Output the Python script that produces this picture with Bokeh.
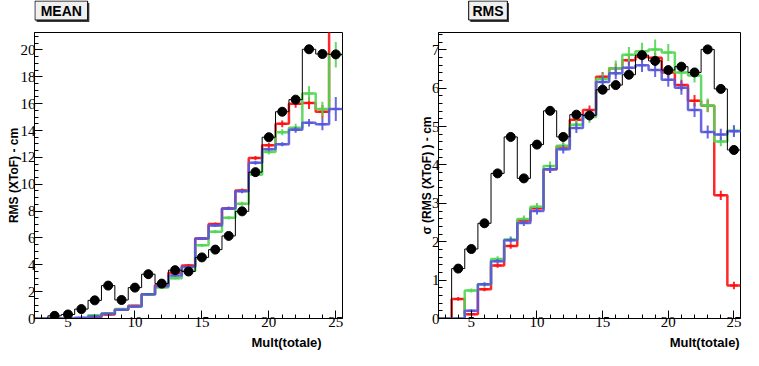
import numpy as np
from bokeh.plotting import figure
from bokeh.layouts import row, column
from bokeh.models import FixedTicker, Range1d
from bokeh.core.properties import value
from bokeh.embed import file_html
from bokeh.resources import INLINE

# ---------------- data ----------------
bins = list(range(3, 26))

# MEAN panel
black_mean = [0, 0.2, 0.3, 0.7, 1.35, 2.45, 1.38, 2.3, 3.3, 2.6, 3.6, 3.5, 4.55, 5.13, 6.15, 7.98,
              10.9, 13.5, 15.4, 16.3, 20.05, 19.7, 19.67]
red_mean = [0, 0, 0, 0.02, 0.1, 0.3, 0.65, 0.95, 1.8, 2.5, 3.4, 3.95, 5.96, 7.03, 8.2, 9.53,
            11.95, 12.9, 14.5, 16.0, 16.05, 15.4, 24.0]
green_mean = [0, 0, 0, 0.02, 0.25, 0.4, 0.7, 0.9, 1.77, 2.3, 3.0, 3.55, 5.45, 6.47, 7.5, 8.55,
              10.7, 12.4, 13.87, 14.2, 16.75, 15.6, 19.65]
blue_mean = [0, 0, 0, 0.05, 0.15, 0.35, 0.65, 0.9, 1.8, 2.4, 3.2, 3.83, 5.96, 6.93, 8.2, 9.48,
             11.6, 12.6, 12.97, 14.06, 14.57, 14.47, 15.6]
red_mean_err = [0, 0, 0, 0.02, 0.03, 0.04, 0.05, 0.05, 0.06, 0.07, 0.08, 0.1, 0.1, 0.12, 0.12,
                0.15, 0.15, 0.18, 0.25, 0.3, 0.45, 0.5, 1.2]
green_mean_err = [0, 0, 0, 0.02, 0.03, 0.04, 0.05, 0.05, 0.06, 0.07, 0.08, 0.1, 0.1, 0.12, 0.12,
                  0.15, 0.15, 0.18, 0.22, 0.3, 0.55, 0.55, 0.95]
blue_mean_err = [0, 0, 0, 0.02, 0.03, 0.04, 0.05, 0.05, 0.06, 0.07, 0.08, 0.1, 0.1, 0.12, 0.12,
                 0.15, 0.15, 0.15, 0.15, 0.22, 0.28, 0.45, 0.9]

# RMS panel
black_rms = [0, 1.3, 1.81, 2.48, 3.78, 4.73, 3.65, 4.53, 5.41, 4.73, 5.31, 5.29, 5.96, 6.08, 6.35,
             6.86, 6.71, 6.47, 6.56, 6.41, 7.01, 5.98, 4.39]
red_rms = [0, 0.51, 0.11, 0.76, 1.38, 1.89, 2.55, 2.87, 3.89, 4.48, 5.18, 5.43, 6.3, 6.52, 6.73,
           6.81, 6.79, 6.41, 6.08, 5.67, 5.54, 3.21, 0.86]
green_rms = [0, 0, 0.73, 0.89, 1.55, 2.06, 2.59, 2.91, 3.97, 4.5, 5.05, 5.25, 6.24, 6.52, 6.87,
             6.96, 7.01, 6.93, 6.41, 6.33, 5.55, 4.61, 4.89]
blue_rms = [0, 0, 0.2, 0.89, 1.49, 2.04, 2.49, 2.8, 3.89, 4.41, 4.96, 5.3, 6.16, 6.39, 6.53, 6.6,
            6.47, 6.22, 6.01, 5.43, 4.86, 4.79, 4.88]
red_rms_err = [0, 0.05, 0.03, 0.05, 0.06, 0.07, 0.08, 0.09, 0.1, 0.1, 0.12, 0.12, 0.12, 0.12, 0.13,
               0.13, 0.13, 0.14, 0.14, 0.15, 0.16, 0.12, 0.1]
green_rms_err = [0, 0, 0.05, 0.06, 0.07, 0.08, 0.09, 0.1, 0.12, 0.12, 0.14, 0.15, 0.17, 0.2, 0.2,
                 0.22, 0.26, 0.22, 0.2, 0.18, 0.18, 0.12, 0.15]
blue_rms_err = [0, 0, 0.04, 0.05, 0.06, 0.07, 0.08, 0.09, 0.1, 0.11, 0.13, 0.14, 0.15, 0.16, 0.17,
                0.18, 0.18, 0.18, 0.18, 0.18, 0.17, 0.15, 0.15]

x_ticks = [5, 10, 15, 20, 25]
mean_ticks = list(range(0, 21, 2))
rms_ticks = list(range(0, 8))
x_title = "Mult(totale)"

RED = "#ff1010"
GREEN = "#52d652"
BLUE = "#5656dc"

HEAD_H = 24
MAIN_H = 310
FOOT_H = 16
BT, BB = 8, 16
X0, X1 = 2.5, 25.5
SERIF = "Liberation Serif"
SANS = "Liberation Sans"


def step_path(vals):
    b = np.asarray(bins, dtype=float)
    edges = np.concatenate([b - 0.5, [b[-1] + 0.5]])
    xs = np.repeat(edges, 2)[1:-1]
    ys = np.repeat(np.asarray(vals, dtype=float), 2)
    return xs, ys


def blank_fig(width, height):
    h = figure(width=width, height=height, x_range=Range1d(0, width), y_range=Range1d(height, 0),
               output_backend="svg", toolbar_location=None, x_axis_type=None, y_axis_type=None,
               min_border_left=0, min_border_right=0, min_border_top=0, min_border_bottom=0)
    h.outline_line_color = None
    h.xgrid.visible = False
    h.ygrid.visible = False
    h.background_fill_color = "white"
    h.border_fill_color = "white"
    return h


def make_header(width, title, box_left, box_w):
    h = blank_fig(width, HEAD_H)
    bh = 19
    h.quad(left=[box_left + 2.5], right=[box_left + box_w + 2.5], top=[2.5], bottom=[bh + 2.5],
           fill_color="#3a3a3a", line_color=None)
    h.quad(left=[box_left + 0.5], right=[box_left + box_w + 0.5], top=[0.5], bottom=[bh + 0.5],
           fill_color="#f0f0f0", line_color="black", line_width=1)
    h.text(x=[box_left + box_w / 2 + 0.5], y=[bh / 2 + 1], text=[title], text_align="center",
           text_baseline="middle", text_font=value(SANS), text_font_style="bold",
           text_font_size="14px", text_color="black")
    return h


def make_footer(width, right_x):
    f = blank_fig(width, FOOT_H)
    f.text(x=[right_x], y=[FOOT_H / 2], text=[x_title], text_align="right",
           text_baseline="middle", text_font=value(SANS), text_font_style="bold",
           text_font_size="13px", text_color="black")
    return f


def make_panel(width, bl, br, ymax, yticks, yminor, black, series, ylabel, ylabel_standoff):
    p = figure(width=width, height=MAIN_H, x_range=Range1d(X0, X1), y_range=Range1d(0, ymax),
               output_backend="svg", toolbar_location=None,
               min_border_left=bl, min_border_right=br, min_border_top=BT, min_border_bottom=BB)
    p.xgrid.visible = False
    p.ygrid.visible = False
    p.background_fill_color = "white"
    p.border_fill_color = "white"
    p.outline_line_color = "black"
    p.outline_line_width = 1

    p.xaxis.ticker = FixedTicker(ticks=x_ticks, minor_ticks=bins)
    p.yaxis.ticker = FixedTicker(ticks=yticks, minor_ticks=yminor)
    for ax in (p.xaxis, p.yaxis):
        ax.axis_line_color = "black"
        ax.axis_line_width = 1
        ax.major_tick_in = 8
        ax.major_tick_out = 0
        ax.minor_tick_in = 4
        ax.minor_tick_out = 0
        ax.major_tick_line_color = "black"
        ax.minor_tick_line_color = "black"
        ax.major_label_text_font = SERIF
        ax.major_label_text_font_size = "15px"
        ax.major_label_text_color = "black"
        ax.axis_label_text_font = SANS
        ax.axis_label_text_font_style = "bold"
        ax.axis_label_text_color = "black"
    p.xaxis.major_label_standoff = -2
    p.yaxis.major_label_standoff = -1
    p.yaxis.axis_label = ylabel
    p.yaxis.axis_label_text_font_size = "12px"
    p.yaxis.axis_label_standoff = ylabel_standoff

    # coloured histograms with error bars
    for vals, errs, col in series:
        xs, ys = step_path(vals)
        p.line(xs, ys, line_color=col, line_width=2.5, line_alpha=0.9)
        v = np.asarray(vals, dtype=float)
        e = np.asarray(errs, dtype=float)
        b = np.asarray(bins, dtype=float)
        m = v > 0
        p.segment(x0=b[m], y0=v[m] - e[m], x1=b[m], y1=v[m] + e[m],
                  line_color=col, line_width=2, line_alpha=0.9)
        p.segment(x0=b[m] - 0.3, y0=v[m], x1=b[m] + 0.3, y1=v[m],
                  line_color=col, line_width=2, line_alpha=0.9)

    # black reference histogram + markers
    xs, ys = step_path(black)
    p.line(xs, ys, line_color="black", line_width=1)
    bv = np.asarray(black, dtype=float)
    bb = np.asarray(bins, dtype=float)
    mk = bv > 0
    p.scatter(bb[mk], bv[mk], size=9, marker="circle", fill_color="black", line_color="black")
    return p


mean_minor = [i * 0.5 for i in range(0, 43)]
rms_minor = [round(i * 0.2, 1) for i in range(0, 38)]

W1, W2 = 368, 375
BL1, BR1 = 34, 26
BL2, BR2 = 70, 3
h1 = make_header(W1, "MEAN", 0, 63)
p1 = make_panel(W1, BL1, BR1, 21.3, mean_ticks, mean_minor, black_mean,
                [(red_mean, red_mean_err, RED), (green_mean, green_mean_err, GREEN),
                 (blue_mean, blue_mean_err, BLUE)],
                "RMS (XToF) - cm", -3)
f1 = make_footer(W1, W1 - BR1 + 1)
h2 = make_header(W2, "RMS", 37, 48)
p2 = make_panel(W2, BL2, BR2, 7.45, rms_ticks, rms_minor, black_rms,
                [(red_rms, red_rms_err, RED), (green_rms, green_rms_err, GREEN),
                 (blue_rms, blue_rms_err, BLUE)],
                "\u03c3 (RMS (XToF) ) - cm", -5)
f2 = make_footer(W2, W2 - BR2 + 2)

layout = row(column(h1, p1, f1), column(h2, p2, f2))
open("out.html", "w").write(file_html(layout, INLINE))
